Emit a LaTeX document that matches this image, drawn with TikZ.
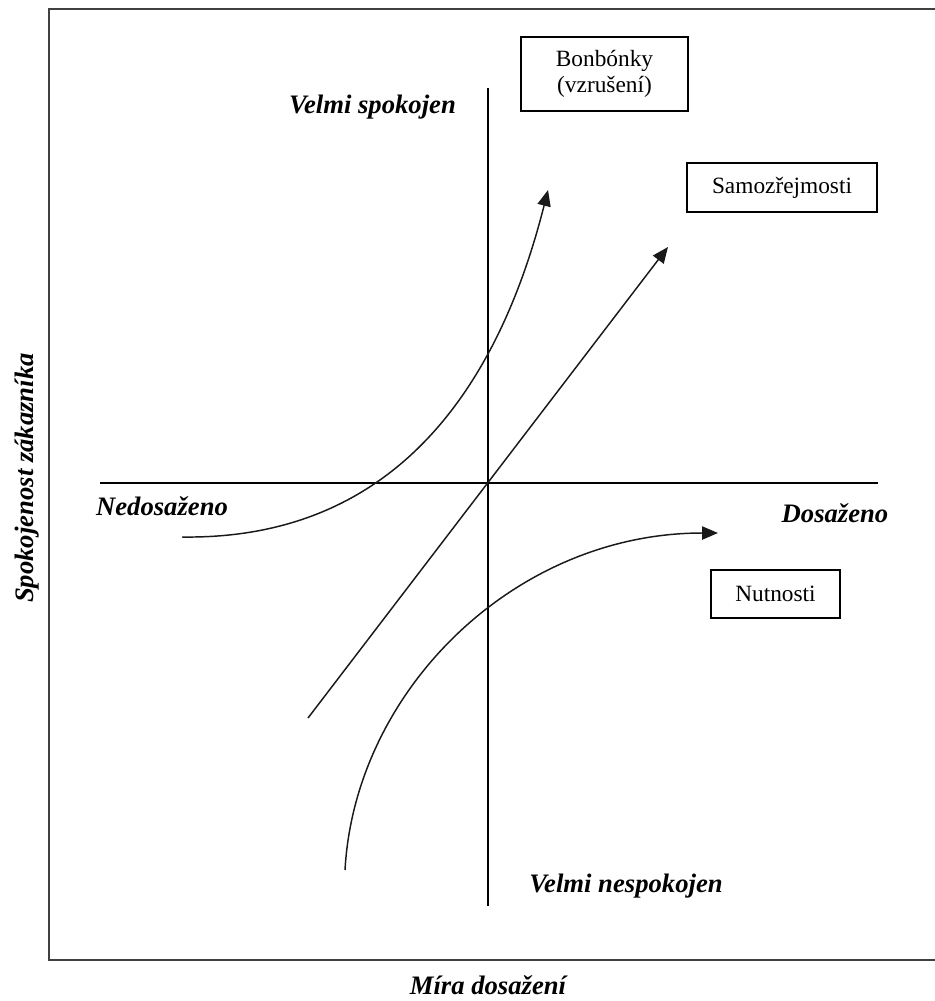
\documentclass[tikz,border=0pt]{standalone}
\usepackage{fontspec}
\setmainfont{Liberation Serif}
\usetikzlibrary{arrows.meta}
\begin{document}
\begin{tikzpicture}[x=0.75pt,y=-0.75pt,
  lbl/.style={font=\fontsize{20}{23}\selectfont\bfseries\itshape, inner sep=0pt},
  boxn/.style={draw, line width=1.2pt, font=\fontsize{17.5}{20}\selectfont, align=center, inner sep=0pt},
  axis/.style={line width=1.4pt, black},
  curve/.style={line width=1.1pt, black!90, -{Triangle[length=12pt,width=10pt]}},
  frame/.style={line width=2pt, black!75}]
\useasboundingbox (0,0) rectangle (935,1001);
% frame
\draw[frame] (940,9) -- (49,9) -- (49,960) -- (940,960);
% axes
\coordinate (vt) at (488,88);
\coordinate (vb) at (488,906);
\coordinate (hl) at (100,483);
\coordinate (hr) at (878,483);
\draw[axis] (vt) -- (vb);
\draw[axis] (hl) -- (hr);
% boxes
\node[boxn, minimum width=125pt, minimum height=55.5pt] (bon) at (604.5,74) {Bonbónky\\(vzrušení)};
\node[boxn, minimum width=142.5pt, minimum height=36.75pt] (sam) at (782,187.5) {Samozřejmosti};
\node[boxn, minimum width=96.75pt, minimum height=36pt] (nut) at (775.5,594) {Nutnosti};
% labels
\node[lbl] (vs) at (372.5,107) {Velmi spokojen};
\node[lbl] (ned) at (162,506) {Nedosaženo};
\node[lbl] (dos) at (835,513) {Dosaženo};
\node[lbl] (vn) at (626,886) {Velmi nespokojen};
\node[lbl] (mira) at (488,985) {Míra dosažení};
\node[lbl, rotate=90] (spok) at (27,478) {Spokojenost zákazníka};
% curves
\coordinate (s1) at (308,718);
\coordinate (e1) at (668,247);
\draw[curve] (s1) -- (e1);
\coordinate (s2) at (182,537);
\coordinate (e2) at (548,190);
\draw[curve] (s2) .. controls (400,540) and (500,380) .. (e2);
\coordinate (s3) at (345,870);
\coordinate (e3) at (718,533);
\draw[curve] (s3) .. controls (355,690) and (515,533) .. (e3);
\end{tikzpicture}
\end{document}
